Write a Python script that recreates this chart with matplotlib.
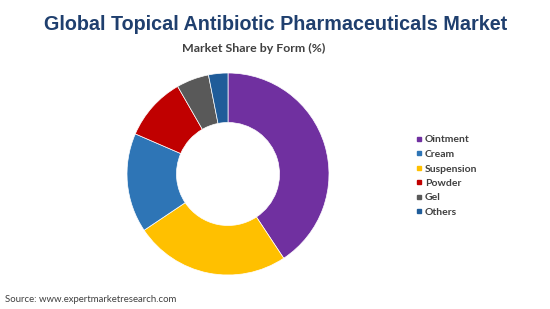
import matplotlib
matplotlib.use("Agg")
import matplotlib.pyplot as plt
from matplotlib.lines import Line2D

# Data (clockwise order in the donut)
categories = ["Ointment", "Suspension", "Cream", "Powder", "Gel", "Others"]
shares = [40.7, 24.9, 15.9, 10.2, 5.2, 3.1]
colors = ["#7030A0", "#FFC000", "#2E75B6", "#C00000", "#595959", "#1F5C99"]
legend_order = ["Ointment", "Cream", "Suspension", "Powder", "Gel", "Others"]

title = "Global Topical Antibiotic Pharmaceuticals Market"
subtitle = "Market Share by Form (%)"
source = "Source: www.expertmarketresearch.com"

W, H = 550, 309
fig = plt.figure(figsize=(W / 100, H / 100), dpi=100)
fig.patch.set_facecolor("white")

cx, cy, r = 228, 174, 101
ax = fig.add_axes([(cx - r) / W, (H - cy - r) / H, 2 * r / W, 2 * r / H])
ax.pie(shares, colors=colors, startangle=90, counterclock=False, radius=1.0,
       wedgeprops=dict(width=0.49, edgecolor="white", linewidth=0.5))
ax.set_xlim(-1, 1)
ax.set_ylim(-1, 1)
ax.set_aspect("equal")
ax.axis("off")

fig.text(276 / W, 1 - 25 / H, title, ha="center", va="center",
         fontsize=14.2, fontweight="bold", color="#1F3F6E", family="Liberation Sans")
fig.text(254 / W, 1 - 48 / H, subtitle, ha="center", va="center",
         fontsize=8.9, fontweight="bold", color="#404040", family="Lato")
fig.text(5 / W, 1 - 300 / H, source, ha="left", va="center",
         fontsize=6.9, color="#404040", family="Lato")

cmap = dict(zip(categories, colors))
handles = [Line2D([], [], marker="s", linestyle="none", markersize=3.2,
                  markerfacecolor=cmap[c], markeredgecolor=cmap[c]) for c in legend_order]
leg = fig.legend(handles, legend_order, loc="upper left",
                 bbox_to_anchor=(411 / W, 1 - 130 / H), frameon=False,
                 handlelength=0.6, handletextpad=0.25, labelspacing=0.5,
                 borderpad=0, prop=dict(family="Lato", size=7.5, weight="bold"))
for t in leg.get_texts():
    t.set_color("#404040")

fig.savefig("out.png", dpi=100, facecolor="white")
